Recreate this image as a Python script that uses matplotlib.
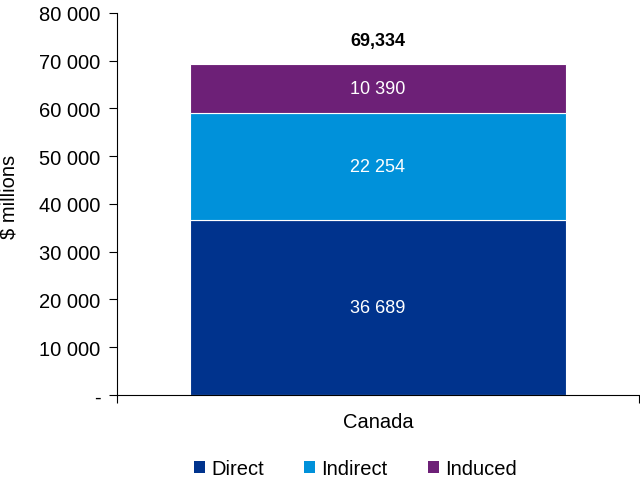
import matplotlib
matplotlib.use("Agg")
import matplotlib.pyplot as plt
from matplotlib.ticker import FuncFormatter
from matplotlib.patches import Patch

plt.rcParams['font.family'] = ['Liberation Sans', 'DejaVu Sans']

categories = ["Canada"]
series_names = ["Direct", "Indirect", "Induced"]
direct = [36689]
indirect = [22254]
induced = [10390]
total_label = "69,334"
colors = ["#00338D", "#0091DA", "#6D2077"]

fig = plt.figure(figsize=(6.4, 4.81), dpi=100)
ax = fig.add_axes([0.183, 0.177, 0.815, 0.794])

x = list(range(len(categories)))
bottom = [0] * len(categories)
for name, vals, col in zip(series_names, [direct, indirect, induced], colors):
    ax.bar(x, vals, width=0.72, bottom=bottom, color=col, edgecolor="white",
           linewidth=0.8, label=name)
    for xi, v, b in zip(x, vals, bottom):
        ax.text(xi, b + v / 2, f"{v:,}".replace(",", " "), ha="center", va="center",
                color="white", fontsize=13)
    bottom = [b + v for b, v in zip(bottom, vals)]

for xi, tot in zip(x, bottom):
    ax.annotate(total_label, (xi, tot), xytext=(0, 11), textcoords="offset points",
                ha="center", va="bottom", fontsize=13, fontweight="bold")

ax.set_xlim(-0.5, 0.5)
ax.set_ylim(0, 80000)
ax.set_yticks(range(0, 80001, 10000))
ax.yaxis.set_major_formatter(FuncFormatter(
    lambda v, p: "-" if v == 0 else f"{int(v):,}".replace(",", " ")))
ax.set_xticks([-0.5, 0.5], minor=False)
ax.set_xticklabels(["", ""])
ax.set_xticks(x, minor=True)
ax.set_xticklabels(categories, minor=True)
ax.tick_params(axis="x", which="minor", length=0, pad=12, labelsize=14.5)
ax.tick_params(axis="x", which="major", length=6, direction="out")
ax.tick_params(axis="y", length=6, pad=6, labelsize=14.5, direction="out")

for s in ["top", "right"]:
    ax.spines[s].set_visible(False)
ax.spines["left"].set_color("black")
ax.spines["bottom"].set_color("black")

ax.set_ylabel("$ millions", fontsize=14.5)
ax.yaxis.set_label_coords(-0.19, 0.52)

handles = [Patch(facecolor=c, edgecolor="none") for c in colors]
fig.legend(handles, series_names, loc="center", bbox_to_anchor=(0.555, 0.024),
           ncol=3, frameon=False, fontsize=14.5, handlelength=0.55, handleheight=0.55,
           handletextpad=0.3, columnspacing=2.0)

fig.savefig("out.png", dpi=100)
